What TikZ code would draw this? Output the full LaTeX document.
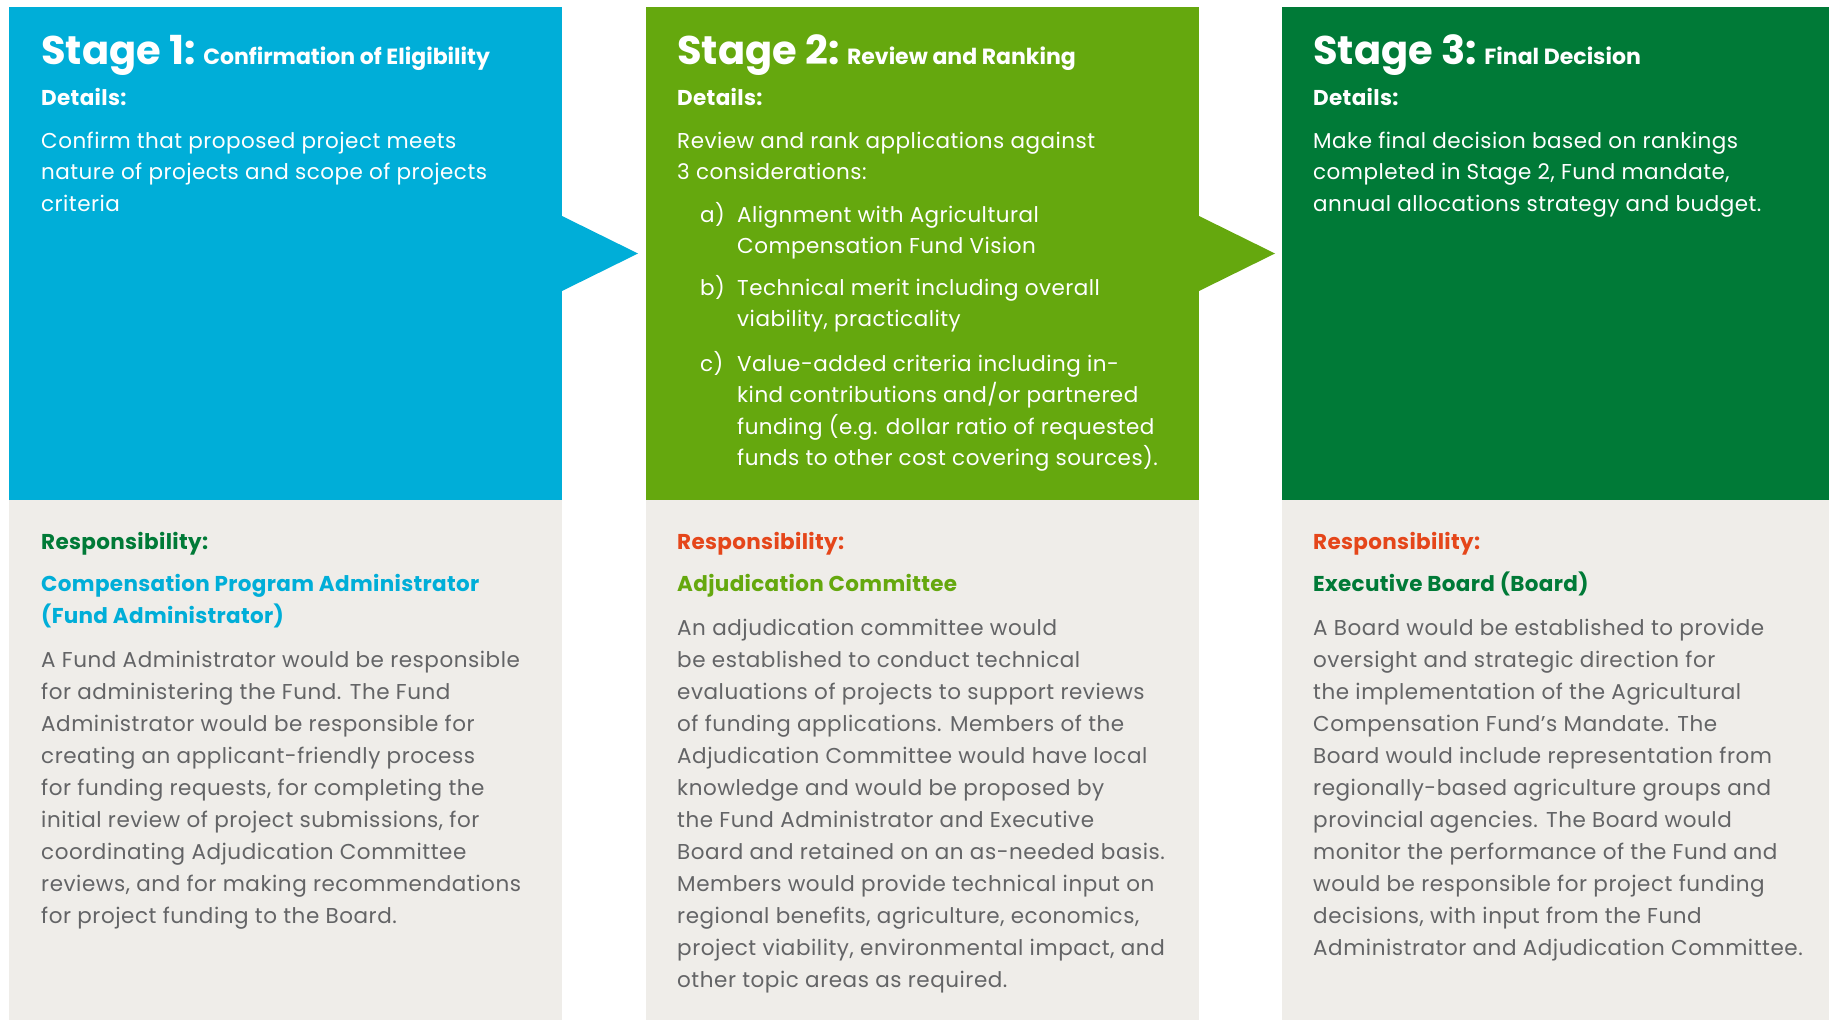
\documentclass[tikz,border=0pt]{standalone}
\usepackage{fontspec}
\setmainfont{Poppins}
\definecolor{stageblue}{HTML}{00AED8}
\definecolor{stagegreen}{HTML}{65A80E}
\definecolor{stagedark}{HTML}{007A37}
\definecolor{panelgrey}{HTML}{EFEDE9}
\definecolor{bodygrey}{HTML}{636466}
\definecolor{respred}{HTML}{E5461A}
% multi-line nodes sit on the baseline of their last line
\tikzset{
  panel/.style={anchor=north west, inner sep=0pt, outer sep=0pt, minimum width=553pt},
  bigtitle/.style={anchor=base west, inner sep=0pt, text=white, font=\bfseries\fontsize{40}{40}\selectfont},
  smalltitle/.style={anchor=base west, inner sep=0pt, text=white, font=\bfseries\fontsize{22}{22}\selectfont},
  headtext/.style={anchor=base west, inner sep=0pt, align=left, font=\bfseries\fontsize{21.5}{32}\selectfont\addfontfeatures{LetterSpace=1.5}},
  toptext/.style={anchor=base west, inner sep=0pt, align=left, text=white, font=\fontsize{21.5}{31.5}\selectfont\addfontfeatures{LetterSpace=2.2}},
  greytext/.style={anchor=base west, inner sep=0pt, align=left, text=bodygrey, font=\fontsize{21.5}{32}\selectfont\addfontfeatures{LetterSpace=2.5}},
}
\begin{document}
\begin{tikzpicture}[x=1pt, y=-1pt]
        \useasboundingbox (0,0) rectangle (1829,1020);
        \fill[white] (0,0) rectangle (1829,1020);

        % stage boxes
        \node[panel, fill=stageblue, minimum height=493pt] (boxone) at (9,7) {};
        \node[panel, fill=stagegreen, minimum height=493pt] (boxtwo) at (646,7) {};
        \node[panel, fill=stagedark, minimum height=493pt, minimum width=547pt] (boxthree) at (1282,7) {};
        \node[panel, fill=panelgrey, minimum height=520pt] (greyone) at (9,500) {};
        \node[panel, fill=panelgrey, minimum height=520pt] (greytwo) at (646,500) {};
        \node[panel, fill=panelgrey, minimum height=520pt, minimum width=547pt] (greythree) at (1282,500) {};

        \fill[stageblue] ([yshift=37.5pt]boxone.east) -- ([xshift=76pt]boxone.east) -- ([yshift=-37.5pt]boxone.east) -- cycle;
        \fill[stagegreen] ([yshift=37.5pt]boxtwo.east) -- ([xshift=76pt]boxtwo.east) -- ([yshift=-37.5pt]boxtwo.east) -- cycle;

        % stage 1
        \node[bigtitle] (stageone) at (41,64) {Stage 1:};
        \node[smalltitle] (subone) at ([xshift=7pt]stageone.base east) {Confirmation of Eligibility};
        \node[headtext, text=white] (detone) at (41,105) {Details:};
        \node[toptext] (topone) at (41,211) {Confirm that proposed project meets\\nature of projects and scope of projects\\criteria};
        \node[headtext, text=stagedark] (respone) at (41,549) {Responsibility:};
        \node[headtext, text=stageblue] (whoone) at (41,623) {Compensation Program Administrator\\(Fund Administrator)};
        \node[greytext] (textone) at (41,923) {A Fund Administrator would be responsible\\for administering the Fund. The Fund\\Administrator would be responsible for\\creating an applicant-friendly process\\for funding requests, for completing the\\initial review of project submissions, for\\coordinating Adjudication Committee\\reviews, and for making recommendations\\for project funding to the Board.};

        % stage 2
        \node[bigtitle] (stagetwo) at (677,64) {Stage 2:};
        \node[smalltitle] (subtwo) at ([xshift=7pt]stagetwo.base east) {Review and Ranking};
        \node[headtext, text=white] (dettwo) at (677,105) {Details:};
        \node[toptext] (toptwo) at (677,179.5) {Review and rank applications against\\3 considerations:};
        \node[toptext] (itema) at (700,222) {a)};
        \node[toptext] (itematext) at (737,253.5) {Alignment with Agricultural\\Compensation Fund Vision};
        \node[toptext] (itemb) at (700,295) {b)};
        \node[toptext] (itembtext) at (737,326.5) {Technical merit including overall\\viability, practicality};
        \node[toptext] (itemc) at (700,371) {c)};
        \node[toptext] (itemctext) at (737,465.5) {Value-added criteria including in-\\kind contributions and/or partnered\\funding (e.g. dollar ratio of requested\\funds to other cost covering sources).};
        \node[headtext, text=respred] (resptwo) at (677,549) {Responsibility:};
        \node[headtext, text=stagegreen] (whotwo) at (677,591) {Adjudication Committee};
        \node[greytext] (texttwo) at (677,987) {An adjudication committee would\\be established to conduct technical\\evaluations of projects to support reviews\\of funding applications. Members of the\\Adjudication Committee would have local\\knowledge and would be proposed by\\the Fund Administrator and Executive\\Board and retained on an as-needed basis.\\Members would provide technical input on\\regional benefits, agriculture, economics,\\project viability, environmental impact, and\\other topic areas as required.};

        % stage 3
        \node[bigtitle] (stagethree) at (1313,64) {Stage 3:};
        \node[smalltitle] (subthree) at ([xshift=7pt]stagethree.base east) {Final Decision};
        \node[headtext, text=white] (detthree) at (1313,105) {Details:};
        \node[toptext] (topthree) at (1313,211) {Make final decision based on rankings\\completed in Stage 2, Fund mandate,\\annual allocations strategy and budget.};
        \node[headtext, text=respred] (respthree) at (1313,549) {Responsibility:};
        \node[headtext, text=stagedark] (whothree) at (1313,591) {Executive Board (Board)};
        \node[greytext] (textthree) at (1313,955) {A Board would be established to provide\\oversight and strategic direction for\\the implementation of the Agricultural\\Compensation Fund’s Mandate. The\\Board would include representation from\\regionally-based agriculture groups and\\provincial agencies. The Board would\\monitor the performance of the Fund and\\would be responsible for project funding\\decisions, with input from the Fund\\Administrator and Adjudication Committee.};
    \end{tikzpicture}
\end{document}
